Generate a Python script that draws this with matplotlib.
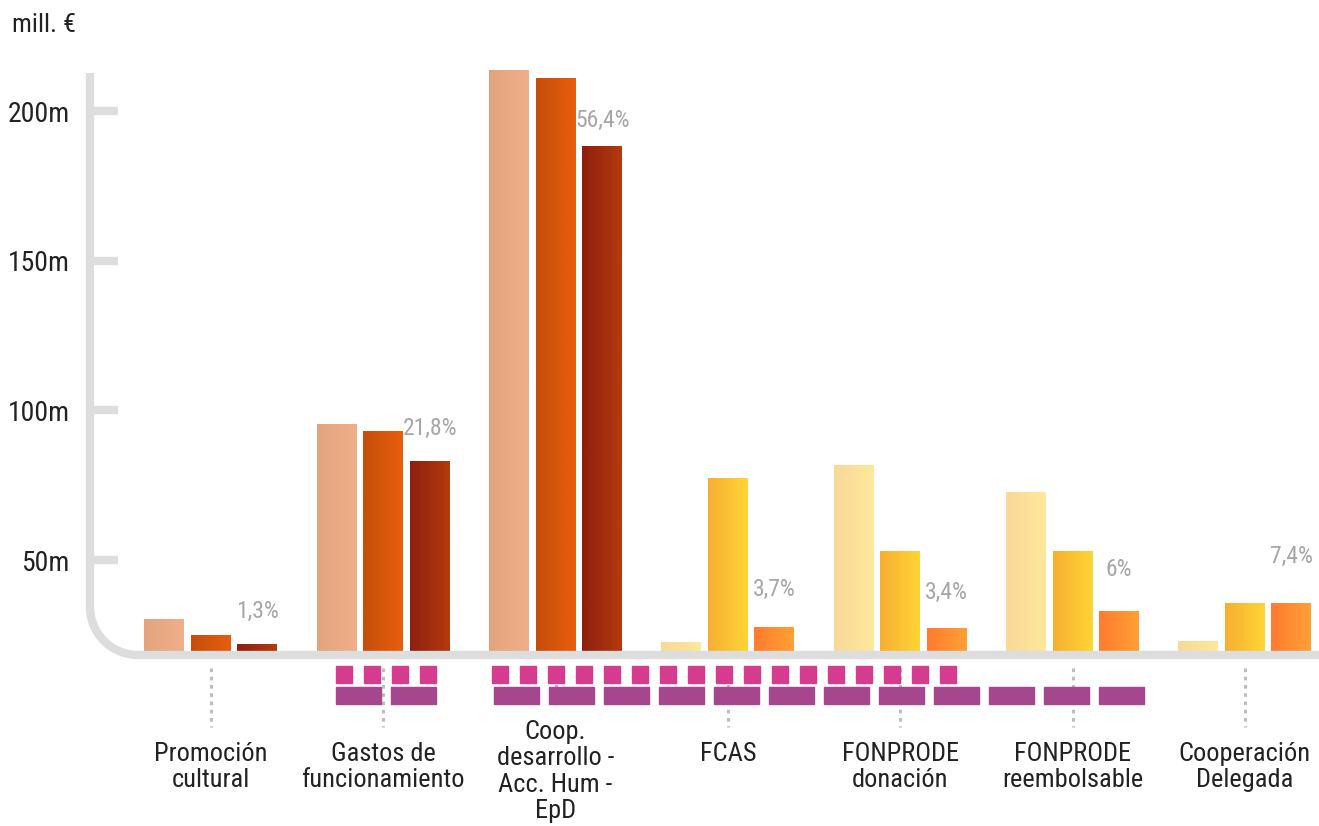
import numpy as np
import matplotlib
matplotlib.use('Agg')
import matplotlib.pyplot as plt
from matplotlib import font_manager
from matplotlib.colors import LinearSegmentedColormap
from matplotlib.lines import Line2D

# Datos (mill. €)
categorias = ['Promoción\ncultural', 'Gastos de\nfuncionamiento', 'Coop.\ndesarrollo -\nAcc. Hum -\nEpD',
              'FCAS', 'FONPRODE\ndonación', 'FONPRODE\nreembolsable', 'Cooperación\nDelegada']
serie_1 = [30.2, 95.6, 213.8, 22.5, 81.9, 72.8, 22.8]
serie_2 = [24.8, 93.0, 211.0, 77.5, 53.0, 53.0, 35.6]
serie_3 = [22.1, 83.2, 188.3, 27.5, 27.2, 32.9, 35.6]
porcentajes = [1.3, 21.8, 56.4, 3.7, 3.4, 6.0, 7.4]
yticks = [50, 100, 150, 200]
ytick_labels = ['50m', '100m', '150m', '200m']

# filas de cuadros bajo el eje: (categoría de inicio, desplazamiento, cantidad)
cuadros_rosa = [(1, -0.274, 4), (2, -0.369, 17)]
barras_moradas = [(1, -0.274, 2), (2, -0.357, 12)]

disponibles = {f.name for f in font_manager.fontManager.ttflist}
candidatas = ['Roboto Condensed', 'Liberation Sans Narrow', 'Open Sans Condensed',
              'Noto Sans Condensed', 'Roboto', 'Liberation Sans']
fuente = next((f for f in candidatas if f in disponibles), 'DejaVu Sans')
plt.rcParams['font.family'] = [fuente, 'DejaVu Sans']
estrecha = fuente in candidatas[:4]
fs = 19 if estrecha else 17

W, H = 1319, 826
fig = plt.figure(figsize=(W / 100, H / 100), dpi=100)
base_px = 655
ax = fig.add_axes([92 / W, (H - base_px) / H, (W - 92) / W, base_px / H])
ax_pct = ax.twinx()
ax_inf = fig.add_axes([92 / W, 0, (W - 92) / W, (H - base_px) / H])

ymin, ymax = 18.26, 237.1
xmin, xmax = -0.69, 6.43
paso, ancho = 0.27, 0.232

grad_a = [('#E2A47F', '#F0AF88'), ('#C54E0C', '#E85E0C'), ('#8E1F0E', '#B53A0E')]
grad_b = [('#F9D899', '#FEE89B'), ('#F7AE33', '#FFD535'), ('#FF7B30', '#FFA035')]

x = np.arange(len(categorias))
gradiente = np.linspace(0, 1, 64).reshape(1, -1)
for k, serie in enumerate([serie_1, serie_2, serie_3]):
    barras = ax.bar(x + (k - 1) * paso, serie, width=ancho, color='none', edgecolor='none')
    for i, b in enumerate(barras):
        c0, c1 = (grad_a if i < 3 else grad_b)[k]
        cmap = LinearSegmentedColormap.from_list('g', [c0, c1])
        x0 = b.get_x()
        im = ax.imshow(gradiente, cmap=cmap, aspect='auto', interpolation='bilinear',
                       extent=[x0, x0 + b.get_width(), ymin, b.get_height()], zorder=2)
        im.set_clip_path(b)

# porcentajes sobre un eje secundario oculto
for i, p in enumerate(porcentajes):
    txt = f'{p:.1f}'.replace('.', ',').replace(',0', '') + '%'
    ax_pct.text(x[i] + paso, p, txt, ha='center', va='center', fontsize=17, color='#A6A6A6')
ax_pct.set_ylim(-3.64, 69.9)
ax_pct.axis('off')

ax.set_xlim(xmin, xmax)
ax.set_ylim(ymin, ymax)
for s in ax.spines.values():
    s.set_visible(False)
ax.set_xticks([])
ax.set_yticks(yticks)
ax.set_yticklabels(ytick_labels, fontsize=20, color='#222222')
ax.tick_params(axis='y', direction='in', length=19, width=6, color='#DDDDDD', pad=16)

# parte inferior
ax_inf.set_xlim(xmin, xmax)
ax_inf.set_ylim(H - base_px, 0)
ax_inf.axis('off')
for i in x:
    fin = 52 if categorias[i].count('\n') > 2 else 72
    ax_inf.plot([i, i], [13, fin], color='#BDBDBD', lw=2.2, linestyle=(0, (1.2, 1.5)), zorder=1)
    y_txt = 65 if categorias[i].count('\n') > 2 else 87
    ax_inf.text(i, y_txt, categorias[i], ha='center', va='top', fontsize=fs, color='#222222',
                linespacing=1.12)

paso_r, ancho_r = 28 / 172.3, 16 / 172.3
for cat, desp, n in cuadros_rosa:
    for j in range(n):
        ax_inf.add_patch(plt.Rectangle((cat + desp + j * paso_r, 11), ancho_r, 17,
                                       color='#D63C8E', zorder=3))
paso_m, ancho_m = 55 / 172.3, 45 / 172.3
for cat, desp, n in barras_moradas:
    for j in range(n):
        ax_inf.add_patch(plt.Rectangle((cat + desp + j * paso_m, 32), ancho_m, 17,
                                       color='#A5468E', zorder=3))

# línea del eje con esquina redondeada
r, xv, top = 48, 90, 73
ang = np.linspace(np.pi, 1.5 * np.pi, 30)
px = np.concatenate([[xv], xv + r + r * np.cos(ang), [W]])
py = np.concatenate([[top], base_px - r - r * np.sin(ang), [base_px]])
fig.add_artist(Line2D(px / W, 1 - py / H, transform=fig.transFigure, color='#DDDDDD',
                      lw=6, solid_capstyle='butt', zorder=5))

fig.text(12 / W, 1 - 25 / H, 'mill. €', fontsize=fs, color='#222222', va='center', ha='left')

fig.savefig('out.png', dpi=100)
